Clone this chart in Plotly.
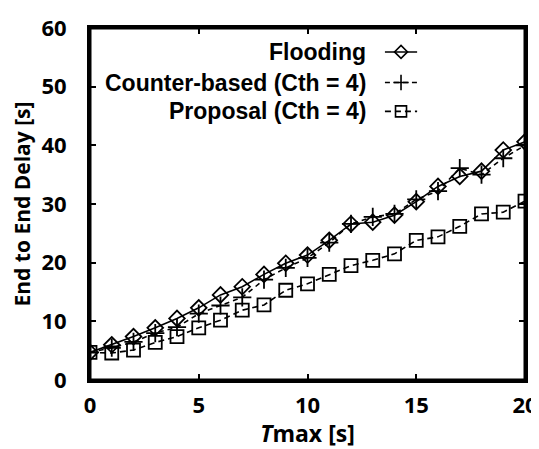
import plotly.graph_objects as go

tmax = list(range(0, 21))
flooding = [4.7, 6.0, 7.4, 8.9, 10.5, 12.3, 14.5, 15.9, 18.0, 19.9, 21.3,
            23.8, 26.6, 26.9, 28.1, 30.4, 33.0, 34.7, 35.6, 39.2, 40.6]
counter = [4.7, 5.5, 6.5, 8.0, 9.0, 11.3, 12.7, 14.1, 17.1, 19.1, 20.8,
           23.4, 26.6, 27.8, 28.3, 30.8, 32.2, 36.1, 35.0, 37.8, 40.0]
proposal = [4.7, 4.6, 5.1, 6.4, 7.4, 8.9, 10.2, 11.9, 12.8, 15.3, 16.4,
            18.0, 19.5, 20.4, 21.5, 23.8, 24.4, 26.2, 28.3, 28.6, 30.5]
names = ["Flooding", "Counter-based (Cth = 4)", "Proposal (Cth = 4)"]
x_ticks = [0, 5, 10, 15, 20]
y_ticks = [0, 10, 20, 30, 40, 50, 60]

styles = [
    dict(dash="solid", symbol="diamond-open", size=12),
    dict(dash="5px,4px", symbol="cross-thin-open", size=13),
    dict(dash="6px,4px", symbol="square-open", size=13),
]
series = [flooding, counter, proposal]

fig = go.Figure()
for vals, st, nm in zip(series, styles, names):
    fig.add_trace(go.Scatter(
        x=tmax, y=vals, mode="lines+markers", name=nm, showlegend=False,
        line=dict(color="black", width=1.6, dash=st["dash"]),
        marker=dict(symbol=st["symbol"], size=st["size"], color="black",
                    line=dict(color="black", width=1.8)),
    ))

# legend (text on the left, sample on the right)
leg_y = [0.932, 0.845, 0.763]
for ly, st, nm in zip(leg_y, styles, names):
    fig.add_trace(go.Scatter(
        x=[0.678, 0.715, 0.752], y=[ly, ly, ly], xaxis="x2", yaxis="y2",
        mode="lines", showlegend=False, hoverinfo="skip",
        line=dict(color="black", width=1.6, dash=st["dash"]),
    ))
    fig.add_trace(go.Scatter(
        x=[0.715], y=[ly], xaxis="x2", yaxis="y2",
        mode="markers", showlegend=False, hoverinfo="skip",
        marker=dict(symbol=st["symbol"], size=st["size"] - 2, color="black",
                    line=dict(color="black", width=1.6)),
    ))
    fig.add_annotation(
        x=0.640, y=ly, xref="x2", yref="y2", text="<b>%s</b>" % nm,
        showarrow=False, xanchor="right", yanchor="middle",
        font=dict(family="Liberation Sans", size=23, color="black"),
    )

# plot frame
fig.add_shape(type="rect", xref="paper", yref="paper", x0=0, x1=1, y0=0, y1=1,
              line=dict(color="black", width=3), layer="above")

axis_common = dict(
    showline=True, linecolor="black", linewidth=3, mirror="ticks",
    ticks="inside", ticklen=6, tickwidth=2, tickcolor="black",
    showgrid=False, zeroline=False, automargin=False,
    ticklabeloverflow="allow",
    tickfont=dict(family="Open Sans", size=22, color="black", weight="bold"),
)

# page body has an 8px margin: figure is shifted by (8, 8)
fig.update_layout(
    width=531, height=441,
    margin=dict(l=82, r=14, t=20, b=69),
    paper_bgcolor="white", plot_bgcolor="white",
    xaxis=dict(range=[0, 20], tickvals=x_ticks, **axis_common,
               ticklabelstandoff=4,
               title=dict(text="<b><i>T</i>max [s]</b>", standoff=0,
                          font=dict(family="Open Sans", size=23, color="black"))),
    yaxis=dict(range=[0, 60], tickvals=y_ticks, **axis_common,
               ticklabelstandoff=16,
               title=dict(text="<b>End to End Delay [s]</b>", standoff=8,
                          font=dict(family="Open Sans", size=21, color="black"))),
    xaxis2=dict(range=[0, 1], overlaying="x", visible=False),
    yaxis2=dict(range=[0, 1], overlaying="y", visible=False),
)

fig.write_html("out.html", config={"displayModeBar": False})
